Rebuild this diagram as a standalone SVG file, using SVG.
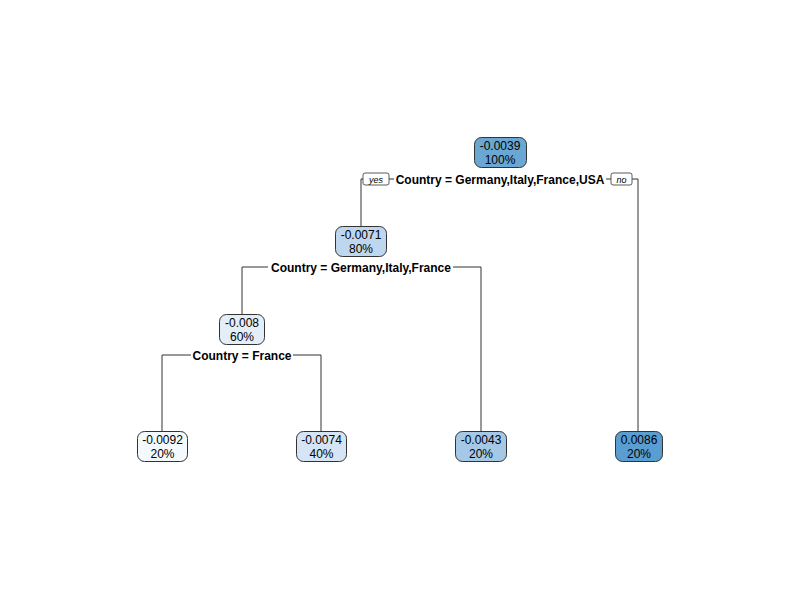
<svg xmlns="http://www.w3.org/2000/svg" width="800" height="600" viewBox="0 0 800 600">
<style>
.box{stroke:#333;stroke-width:1}
.t{font-family:"Liberation Sans",Arial,sans-serif;font-size:12px;fill:#000;text-anchor:middle}
.s{font-family:"Liberation Sans",Arial,sans-serif;font-size:12px;font-weight:bold;fill:#000;text-anchor:middle}
.yn{font-family:"Liberation Sans",Arial,sans-serif;font-size:9px;font-style:italic;fill:#000;text-anchor:middle}
.ln{stroke:#333;stroke-width:1;fill:none}
.lb{fill:#fff;stroke:#333;stroke-width:0.8}
</style>
<rect width="800" height="600" fill="#fff"/>
<g id="connectors">
<path class="ln" d="M361,227 V179 H363 M389,179 H394 M606,179 H611 M632,179 H638 V431"/>
<path class="ln" d="M242,314 V267 H268 M453,267 H481 V431"/>
<path class="ln" d="M162,431 V355 H191 M293,355 H321 V431"/>
<rect class="lb" x="363" y="173" width="26" height="12" rx="2"/>
<text class="yn" x="376" y="182.5">yes</text>
<rect class="lb" x="611" y="173" width="21" height="12" rx="2"/>
<text class="yn" x="621.5" y="182.5">no</text>
<text class="s" x="500" y="183.5">Country = Germany,Italy,France,USA</text>
<text class="s" x="361" y="271.5">Country = Germany,Italy,France</text>
<text class="s" x="242" y="359.5">Country = France</text>
</g>
<g id="n1"><rect class="box" x="474.5" y="137.5" width="52" height="30" rx="7" fill="#6BA7D3"/><text class="t" x="500" y="149.5">-0.0039</text><text class="t" x="500" y="163.5">100%</text></g>
<g id="n2"><rect class="box" x="335.5" y="226.5" width="51" height="30" rx="7" fill="#BED6EE"/><text class="t" x="361" y="238.5">-0.0071</text><text class="t" x="361" y="252.5">80%</text></g>
<g id="n4"><rect class="box" x="219.5" y="314.5" width="45" height="30" rx="7" fill="#E4EEF9"/><text class="t" x="242" y="326.5">-0.008</text><text class="t" x="242" y="340.5">60%</text></g>
<g id="n8"><rect class="box" x="137.5" y="431.5" width="50" height="30" rx="7" fill="#F4F9FE"/><text class="t" x="162.5" y="443.5">-0.0092</text><text class="t" x="162.5" y="457.5">20%</text></g>
<g id="n9"><rect class="box" x="296.5" y="431.5" width="50" height="30" rx="7" fill="#D6E5F5"/><text class="t" x="321.5" y="443.5">-0.0074</text><text class="t" x="321.5" y="457.5">40%</text></g>
<g id="n5"><rect class="box" x="455.5" y="431.5" width="51" height="30" rx="7" fill="#A4C8E5"/><text class="t" x="481" y="443.5">-0.0043</text><text class="t" x="481" y="457.5">20%</text></g>
<g id="n3"><rect class="box" x="615.5" y="431.5" width="47" height="30" rx="7" fill="#5A9DD0"/><text class="t" x="639" y="443.5">0.0086</text><text class="t" x="639" y="457.5">20%</text></g>
</svg>
